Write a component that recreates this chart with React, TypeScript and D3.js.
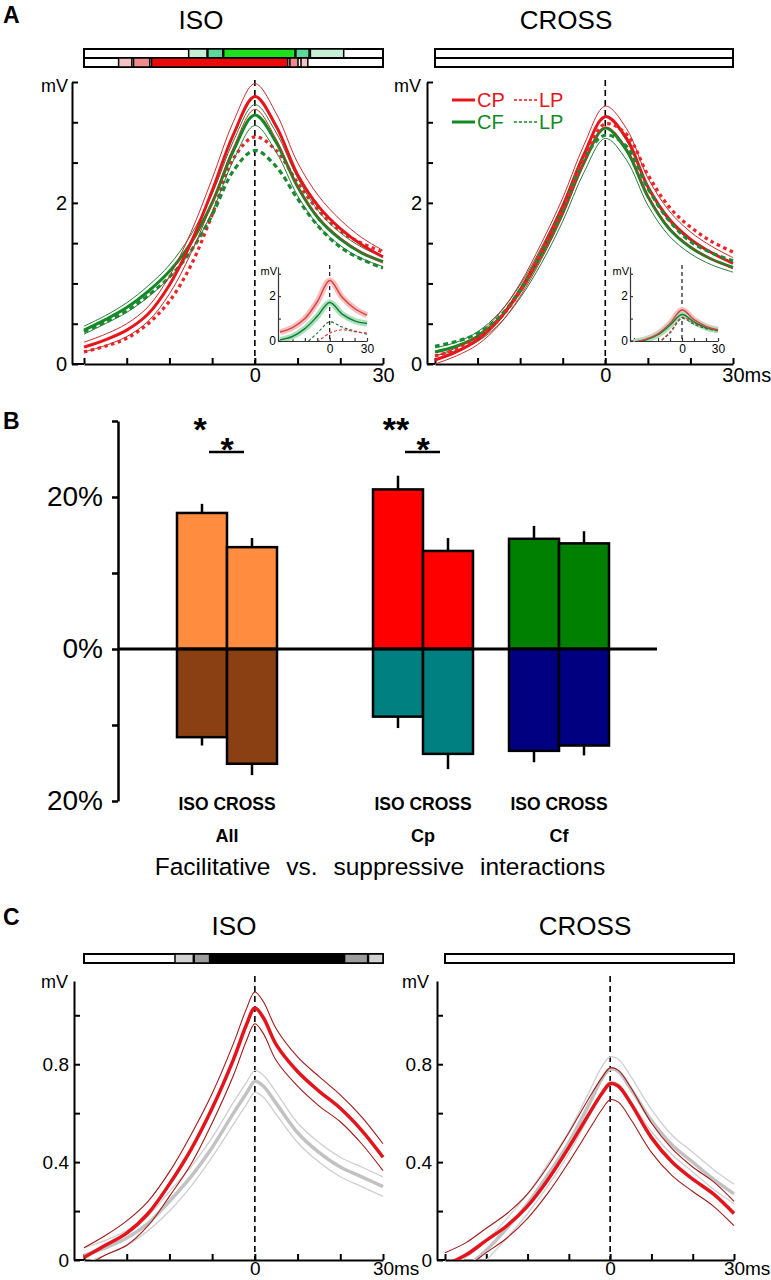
import React, { useRef, useEffect } from 'react';
import * as d3 from 'd3';

// ---- panel A : averaged traces (ms / mV) ----
const timesA = [-40, -35, -30, -25, -20, -15, -10, -5, 0, 5, 10, 15, 20, 25, 30];
const isoCP = [0.21, 0.30, 0.42, 0.62, 0.98, 1.50, 2.15, 2.85, 3.32, 2.95, 2.35, 1.95, 1.68, 1.48, 1.33];
const isoCPsem = [0.06, 0.07, 0.08, 0.09, 0.11, 0.13, 0.15, 0.16, 0.16, 0.16, 0.15, 0.13, 0.11, 0.09, 0.08];
const isoCF = [0.42, 0.55, 0.70, 0.90, 1.15, 1.50, 2.00, 2.65, 3.09, 2.75, 2.20, 1.80, 1.55, 1.38, 1.27];
const isoCFsem = [0.05, 0.05, 0.06, 0.07, 0.08, 0.10, 0.11, 0.12, 0.13, 0.12, 0.11, 0.09, 0.08, 0.07, 0.06];
const isoLPred = [0.15, 0.22, 0.32, 0.50, 0.78, 1.22, 1.85, 2.55, 2.82, 2.65, 2.25, 1.90, 1.65, 1.50, 1.39];
const isoLPgreen = [0.40, 0.52, 0.66, 0.85, 1.08, 1.40, 1.85, 2.40, 2.65, 2.45, 2.05, 1.70, 1.45, 1.30, 1.19];

const crossCP = [0.05, 0.15, 0.30, 0.55, 0.92, 1.40, 1.95, 2.60, 3.07, 2.80, 2.20, 1.80, 1.55, 1.38, 1.25];
const crossCPsem = [0.05, 0.05, 0.06, 0.07, 0.08, 0.10, 0.11, 0.12, 0.13, 0.12, 0.11, 0.10, 0.09, 0.08, 0.07];
const crossCF = [0.15, 0.22, 0.34, 0.56, 0.90, 1.35, 1.88, 2.50, 2.93, 2.65, 2.08, 1.68, 1.45, 1.30, 1.20];
const crossCFsem = [0.05, 0.05, 0.06, 0.07, 0.08, 0.10, 0.11, 0.12, 0.13, 0.12, 0.11, 0.09, 0.08, 0.07, 0.06];
const crossLPred = [0.10, 0.18, 0.32, 0.55, 0.90, 1.38, 1.92, 2.55, 2.98, 2.85, 2.35, 1.95, 1.70, 1.52, 1.39];
const crossLPgreen = [0.22, 0.28, 0.38, 0.58, 0.92, 1.38, 1.90, 2.55, 2.84, 2.70, 2.18, 1.78, 1.52, 1.38, 1.28];

// insets
const timesInset = [-40, -30, -20, -10, 0, 10, 20, 30];
const insIsoRed = [0.40, 0.60, 1.00, 1.75, 2.70, 1.95, 1.45, 1.15];
const insIsoGreen = [0.05, 0.20, 0.55, 1.10, 1.72, 1.20, 0.90, 0.78];
const insIsoRedDash = [null, null, null, -0.05, 0.35, 0.50, 0.42, 0.35];
const insIsoGreenDash = [null, null, -0.15, 0.35, 0.85, 0.62, 0.45, 0.30];
const insCrossRed = [-0.05, 0.08, 0.32, 0.78, 1.38, 0.95, 0.65, 0.50];
const insCrossGreen = [-0.05, 0.05, 0.28, 0.70, 1.18, 0.85, 0.60, 0.48];
const insCrossRedDash = [null, null, -0.1, 0.40, 1.05, 0.80, 0.58, 0.46];
const insCrossGreenDash = [null, null, -0.1, 0.35, 1.00, 0.75, 0.55, 0.45];

// significance strips [start ms, end ms, level]
const sigIsoGreen = [[-15.5, -11.2, 1], [-11.0, -7.5, 2], [-7.3, 9.4, 3], [9.6, 12.7, 2], [13.0, 20.8, 1]];
const sigIsoRed = [[-31.9, -28.8, 1], [-28.4, -24.6, 2], [-24.2, 7.7, 3], [8.2, 10.1, 2], [10.8, 12.4, 1]];
const sigC = [[-18.7, -14.4, 1], [-14.2, -10.6, 2], [-10.5, 21.0, 3], [21.0, 26.4, 2], [26.6, 30, 1]];

// ---- panel B : facilitation / suppression (%) ----
const groups = ['All', 'Cp', 'Cf'];
const conds = ['ISO', 'CROSS'];
const facil = [[17.9, 13.4], [21.0, 12.9], [14.5, 13.9]];
const facilErr = [[1.2, 1.2], [1.8, 1.7], [1.7, 1.6]];
const suppr = [[-11.6, -15.1], [-8.9, -13.8], [-13.4, -12.7]];
const supprErr = [[1.1, 1.5], [1.5, 2.0], [1.5, 1.3]];
const starsIso = ['*', '**', ''];
const starsPair = ['*', '*', ''];

// ---- panel C ----
const timesC = [-40, -35, -30, -25, -20, -15, -10, -5, -2, 0, 2, 5, 10, 15, 20, 25, 30];
const cIsoRed = [0.01, 0.06, 0.11, 0.19, 0.31, 0.45, 0.62, 0.82, 0.96, 1.03, 0.99, 0.88, 0.77, 0.69, 0.62, 0.53, 0.42];
const cIsoRedSem = [0.04, 0.04, 0.05, 0.05, 0.05, 0.06, 0.06, 0.065, 0.065, 0.065, 0.065, 0.065, 0.06, 0.06, 0.055, 0.055, 0.055];
const cIsoGray = [0.02, 0.05, 0.09, 0.15, 0.24, 0.34, 0.46, 0.60, 0.68, 0.73, 0.71, 0.64, 0.52, 0.44, 0.38, 0.34, 0.30];
const cIsoGraySem = [0.03, 0.03, 0.03, 0.03, 0.04, 0.04, 0.04, 0.045, 0.045, 0.045, 0.045, 0.045, 0.04, 0.04, 0.04, 0.04, 0.04];
const cCrossRed = [-0.02, 0.02, 0.08, 0.14, 0.22, 0.33, 0.46, 0.60, 0.68, 0.72, 0.71, 0.64, 0.50, 0.40, 0.33, 0.27, 0.19];
const cCrossRedSem = [0.05, 0.05, 0.05, 0.05, 0.05, 0.055, 0.06, 0.065, 0.065, 0.065, 0.065, 0.065, 0.06, 0.055, 0.05, 0.05, 0.05];
const cCrossGray = [-0.08, -0.03, 0.04, 0.13, 0.23, 0.35, 0.48, 0.64, 0.74, 0.78, 0.77, 0.70, 0.57, 0.47, 0.40, 0.33, 0.27];
const cCrossGraySem = [0.04, 0.04, 0.04, 0.04, 0.04, 0.045, 0.045, 0.05, 0.05, 0.05, 0.05, 0.05, 0.045, 0.04, 0.04, 0.04, 0.04];

const FONT = '"Liberation Sans", Arial, Helvetica, sans-serif';

export default function App() {
    const svgRef = useRef<SVGSVGElement | null>(null);

    useEffect(() => {
        const svg = d3.select(svgRef.current);
        svg.selectAll('*').remove();
        const defs = svg.append('defs');

        const text = (x: number, y: number, s: string, size: number, anchor = 'middle', weight = 'normal', fill = '#000') =>
            svg.append('text')
                .attr('x', x).attr('y', y)
                .attr('font-family', FONT).attr('font-size', size)
                .attr('text-anchor', anchor).attr('font-weight', weight)
                .attr('fill', fill).text(s);

        const mkLine = (x: any, y: any) =>
            d3.line<[number, number | null]>()
                .defined((d) => d[1] !== null)
                .x((d) => x(d[0]))
                .y((d) => y(d[1]))
                .curve(d3.curveCatmullRom.alpha(0.5));

        let clipN = 0;
        const clipFor = (x: any, y: any) => {
            const id = 'clip' + clipN++;
            const [y0, y1] = y.range();
            defs.append('clipPath').attr('id', id).append('rect')
                .attr('x', x.range()[0] - 12).attr('y', y1)
                .attr('width', x.range()[1] - x.range()[0] + 14)
                .attr('height', y0 - y1);
            return svg.append('g').attr('clip-path', `url(#${id})`);
        };

        const trace = (g: any, x: any, y: any, times: number[], vals: (number | null)[], color: string, width: number, dash?: string) => {
            g.append('path')
                .attr('d', mkLine(x, y)(times.map((t, i) => [t, vals[i]] as [number, number | null])))
                .attr('fill', 'none').attr('stroke', color).attr('stroke-width', width)
                .attr('stroke-dasharray', dash || null)
                .attr('stroke-linecap', 'butt');
        };

        const withSem = (g: any, x: any, y: any, times: number[], vals: number[], sem: number[], thick: string, thin: string, wThick: number, wThin: number) => {
            trace(g, x, y, times, vals.map((v, i) => v + sem[i]), thin, wThin);
            trace(g, x, y, times, vals.map((v, i) => v - sem[i]), thin, wThin);
            trace(g, x, y, times, vals, thick, wThick);
        };

        // axes for trace panels (ticks point inward)
        const traceAxes = (x: any, y: any, axisX: number, yTicks: number[], yFmt: (d: number) => string, topTick: boolean, lastLabel: string, fs: number, xPad = 4) => {
            const gy = svg.append('g').attr('transform', `translate(${axisX},0)`)
                .call(d3.axisLeft(y).tickValues(topTick ? [...yTicks, y.domain()[1]] : yTicks)
                    .tickSizeInner(-6).tickSizeOuter(0).tickPadding(5)
                    .tickFormat((d: any) => yFmt(d)));
            gy.attr('font-family', FONT).attr('font-size', fs);
            gy.selectAll('line,path').attr('stroke-width', 2);
            const gx = svg.append('g').attr('transform', `translate(0,${y(0)})`)
                .call(d3.axisBottom(x).tickValues(d3.range(-40, 31, 10))
                    .tickSizeInner(-6).tickSizeOuter(0).tickPadding(xPad)
                    .tickFormat((d: any) => (d === 0 ? '0' : d === 30 ? lastLabel : '')));
            gx.attr('font-family', FONT).attr('font-size', fs);
            gx.selectAll('line,path').attr('stroke-width', 2);
            gx.selectAll('.tick text').filter((d: any) => d === 30 && lastLabel.length > 2)
                .attr('text-anchor', 'start').attr('x', -fs * 0.56);
            gx.append('line').attr('x1', axisX).attr('x2', x.range()[0]).attr('y1', 0).attr('y2', 0)
                .attr('stroke', '#000').attr('stroke-width', 2);
        };

        const zeroDash = (x: any, y0: number, y1: number, w = 1.6, dash = '6,4') =>
            svg.append('line').attr('x1', x(0)).attr('x2', x(0)).attr('y1', y0).attr('y2', y1)
                .attr('stroke', '#000').attr('stroke-width', w).attr('stroke-dasharray', dash);

        const strip = (x: any, top: number, h: number, segs: number[][], shades: string[]) => {
            svg.append('rect').attr('x', x(-40)).attr('y', top).attr('width', x(30) - x(-40)).attr('height', h)
                .attr('fill', '#fff').attr('stroke', '#000').attr('stroke-width', 2);
            segs.forEach(([s, e, lv]) => {
                svg.append('rect').attr('x', x(s)).attr('y', top).attr('width', x(e) - x(s)).attr('height', h)
                    .attr('fill', shades[lv]).attr('stroke', '#000').attr('stroke-width', 1.5);
            });
        };

        const greenShades = ['#fff', '#c4eed6', '#5cd99a', '#1ee01e'];
        const redShades = ['#fff', '#f4c4c4', '#ee8c8c', '#ea0a0a'];
        const grayShades = ['#fff', '#d2d2d2', '#9c9c9c', '#000'];

        // ================= PANEL A =================
        text(3, 23, 'A', 23, 'start', 'bold');
        text(201, 29, 'ISO', 26);
        text(566, 29, 'CROSS', 26);

        const yA = d3.scaleLinear().domain([0, 3.5]).range([364, 82]);
        const xAiso = d3.scaleLinear().domain([-40, 30]).range([84, 383]);
        const xAcross = d3.scaleLinear().domain([-40, 30]).range([435, 733]);

        strip(xAiso, 49, 9, sigIsoGreen, greenShades);
        strip(xAiso, 58, 9, sigIsoRed, redShades);
        strip(xAcross, 49, 9, [], greenShades);
        strip(xAcross, 58, 9, [], redShades);

        const aFmt = (d: number) => (d === 0 ? '0' : d === 2 ? '2' : '');
        traceAxes(xAiso, yA, 72, d3.range(0, 3.01, 0.5), aFmt, true, '30', 20);
        traceAxes(xAcross, yA, 427, d3.range(0, 3.01, 0.5), aFmt, true, '30ms', 20);
        text(68, 92, 'mV', 18, 'end');
        text(421, 92, 'mV', 18, 'end');
        zeroDash(xAiso, 80, 364);
        zeroDash(xAcross, 80, 364);

        const RED = '#e8141c', RED_THIN = '#cc2a2a', GREEN = '#108a24', GREEN_THIN = '#2a7a3a';
        const RED_DASH = '#ee2424', GREEN_DASH = '#1c8a32';

        const gIso = clipFor(xAiso, yA);
        trace(gIso, xAiso, yA, timesA, isoLPred, RED_DASH, 3.2, '3.5,3.5');
        trace(gIso, xAiso, yA, timesA, isoLPgreen, GREEN_DASH, 3.2, '5,3.5');
        withSem(gIso, xAiso, yA, timesA, isoCF, isoCFsem, GREEN, GREEN_THIN, 3, 1);
        withSem(gIso, xAiso, yA, timesA, isoCP, isoCPsem, RED, RED_THIN, 3, 1);

        const gCross = clipFor(xAcross, yA);
        withSem(gCross, xAcross, yA, timesA, crossCF, crossCFsem, GREEN, GREEN_THIN, 3, 1);
        withSem(gCross, xAcross, yA, timesA, crossCP, crossCPsem, RED, RED_THIN, 3, 1);
        trace(gCross, xAcross, yA, timesA, crossLPgreen, GREEN_DASH, 3.2, '5,3.5');
        trace(gCross, xAcross, yA, timesA, crossLPred, RED_DASH, 3.2, '3.5,3.5');

        // legend
        const legend = [
            { y: 100, c: RED, a: 'CP' },
            { y: 122, c: GREEN, a: 'CF' },
        ];
        legend.forEach((l) => {
            svg.append('line').attr('x1', 452).attr('x2', 475).attr('y1', l.y).attr('y2', l.y)
                .attr('stroke', l.c).attr('stroke-width', 3);
            text(477, l.y + 7, l.a, 20, 'start', 'normal', l.c);
            svg.append('line').attr('x1', 514).attr('x2', 538).attr('y1', l.y).attr('y2', l.y)
                .attr('stroke', l.c).attr('stroke-width', 1.5).attr('stroke-dasharray', '3,2');
            text(539, l.y + 7, 'LP', 20, 'start', 'normal', l.c);
        });

        // insets
        const inset = (x: any, y: any, axisX: number, red: (number | null)[], green: (number | null)[], redDash: (number | null)[], greenDash: (number | null)[]) => {
            const gy = svg.append('g').attr('transform', `translate(${axisX},0)`)
                .call(d3.axisLeft(y).tickValues([0, 1, 2, 3]).tickSizeInner(-3).tickSizeOuter(0).tickPadding(2)
                    .tickFormat((d: any) => (d === 0 ? '0' : d === 2 ? '2' : '')));
            gy.attr('font-family', FONT).attr('font-size', 12);
            gy.selectAll('line,path').attr('stroke-width', 1.2).attr('stroke', '#333');
            const gx = svg.append('g').attr('transform', `translate(0,${y(0)})`)
                .call(d3.axisBottom(x).tickValues(d3.range(-40, 31, 10)).tickSizeInner(-3).tickSizeOuter(0).tickPadding(3)
                    .tickFormat((d: any) => (d === 0 ? '0' : d === 30 ? '30' : '')));
            gx.attr('font-family', FONT).attr('font-size', 12);
            gx.selectAll('line,path').attr('stroke-width', 1.2).attr('stroke', '#333');
            svg.append('line').attr('x1', axisX).attr('x2', x.range()[0]).attr('y1', y(0)).attr('y2', y(0))
                .attr('stroke', '#333').attr('stroke-width', 1.2);
            text(axisX - 1, y.range()[1] + 8, 'mV', 11, 'end');
            zeroDash(x, y.range()[1] - 2, y(0), 1.1, '4,3');
            const g = clipFor(x, y);
            trace(g, x, y, timesInset, red, '#f6c0c0', 6);
            trace(g, x, y, timesInset, green, '#a8e2b8', 6);
            trace(g, x, y, timesInset, greenDash, '#1a6a2a', 1.1, '3,2');
            trace(g, x, y, timesInset, redDash, '#d83030', 1.1, '3,2');
            trace(g, x, y, timesInset, green, '#1a7a3a', 1.4);
            trace(g, x, y, timesInset, red, '#dc4040', 1.4);
        };
        const yIns = d3.scaleLinear().domain([0, 3.3]).range([341, 267]);
        inset(d3.scaleLinear().domain([-40, 30]).range([280, 367]), yIns, 278, insIsoRed, insIsoGreen, insIsoRedDash, insIsoGreenDash);
        inset(d3.scaleLinear().domain([-40, 30]).range([634, 718]), yIns, 630, insCrossRed, insCrossGreen, insCrossRedDash, insCrossGreenDash);

        // ================= PANEL B =================
        text(3, 429, 'B', 23, 'start', 'bold');
        const yB = d3.scaleLinear().domain([-20, 30]).range([801, 421]);
        const gx = d3.scaleOrdinal<string, number>().domain(groups).range([227, 423, 559]);
        const sub = d3.scaleBand().domain(conds).range([-50, 50]);

        const gyB = svg.append('g').attr('transform', 'translate(118,0)')
            .call(d3.axisLeft(yB).tickValues(d3.range(-20, 31, 10)).tickSizeInner(6).tickSizeOuter(0).tickPadding(9)
                .tickFormat((d: any) => (d === 0 ? '0%' : Math.abs(d) === 20 ? '20%' : '')));
        gyB.attr('font-family', FONT).attr('font-size', 28);
        gyB.selectAll('line,path').attr('stroke-width', 2.5);

        groups.forEach((gname, gi) => {
            conds.forEach((c, ci) => {
                const x0 = gx(gname) + (sub(c) as number);
                const w = sub.bandwidth();
                const fc = ['#ff8c3f', '#ff0000', '#008000'][gi];
                const sc = ['#8b4013', '#008080', '#000080'][gi];
                const f = facil[gi][ci], s = suppr[gi][ci];
                svg.append('line').attr('x1', x0 + w / 2).attr('x2', x0 + w / 2)
                    .attr('y1', yB(f)).attr('y2', yB(f + facilErr[gi][ci]))
                    .attr('stroke', '#000').attr('stroke-width', 2.5);
                svg.append('line').attr('x1', x0 + w / 2).attr('x2', x0 + w / 2)
                    .attr('y1', yB(s)).attr('y2', yB(s - supprErr[gi][ci]))
                    .attr('stroke', '#000').attr('stroke-width', 2.5);
                svg.append('rect').attr('x', x0).attr('y', yB(f)).attr('width', w).attr('height', yB(0) - yB(f))
                    .attr('fill', fc).attr('stroke', '#000').attr('stroke-width', 2.5);
                svg.append('rect').attr('x', x0).attr('y', yB(0)).attr('width', w).attr('height', yB(s) - yB(0))
                    .attr('fill', sc).attr('stroke', '#000').attr('stroke-width', 2.5);
            });
            const cx = gx(gname);
            text(cx, 810, 'ISO CROSS', 17.5, 'middle', 'bold');
            text(cx, 842, gname, 18, 'middle', 'bold');
            if (starsIso[gi]) text(cx + (sub('ISO') as number) + sub.bandwidth() / 2 - 2, 441, starsIso[gi], 34, 'middle', 'bold');
            if (starsPair[gi]) {
                text(cx, 461, starsPair[gi], 34, 'middle', 'bold');
                svg.append('line').attr('x1', cx - 18).attr('x2', cx + 17).attr('y1', 452).attr('y2', 452)
                    .attr('stroke', '#000').attr('stroke-width', 2.5);
            }
        });
        svg.append('line').attr('x1', 118).attr('x2', 657).attr('y1', yB(0)).attr('y2', yB(0))
            .attr('stroke', '#000').attr('stroke-width', 3);
        text(380, 875, 'Facilitative  vs.  suppressive  interactions', 24.5).attr('word-spacing', 9);

        // ================= PANEL C =================
        text(3, 925, 'C', 23, 'start', 'bold');
        text(234, 935, 'ISO', 26);
        text(585, 935, 'CROSS', 26);
        const yC = d3.scaleLinear().domain([0, 1.14]).range([1260, 981]);
        const xCiso = d3.scaleLinear().domain([-40, 30]).range([84, 383]);
        const xCcross = d3.scaleLinear().domain([-40, 30]).range([445, 734]);
        strip(xCiso, 954, 9, sigC, grayShades);
        strip(xCcross, 954, 9, [], grayShades);
        const cFmt = (d: number) => (d === 0 ? '0' : Math.abs(d - 0.4) < 1e-6 ? '0.4' : Math.abs(d - 0.8) < 1e-6 ? '0.8' : '');
        traceAxes(xCiso, yC, 74, [0, 0.2, 0.4, 0.6, 0.8, 1.0], cFmt, false, '30ms', 19, 1);
        traceAxes(xCcross, yC, 437, [0, 0.2, 0.4, 0.6, 0.8, 1.0], cFmt, false, '30ms', 19, 1);
        text(68, 988, 'mV', 18, 'end');
        text(429, 988, 'mV', 18, 'end');
        zeroDash(xCiso, 976, 1260);
        zeroDash(xCcross, 976, 1260);

        const CRED = '#e3141b', CRED_THIN = '#a31818', GRAY = '#c2c2c2', GRAY_THIN = '#cfcfcf';
        const gCi = clipFor(xCiso, yC);
        withSem(gCi, xCiso, yC, timesC, cIsoGray, cIsoGraySem, GRAY, GRAY_THIN, 3.5, 1.3);
        withSem(gCi, xCiso, yC, timesC, cIsoRed, cIsoRedSem, CRED, CRED_THIN, 3.5, 1.1);
        const gCc = clipFor(xCcross, yC);
        withSem(gCc, xCcross, yC, timesC, cCrossGray, cCrossGraySem, GRAY, GRAY_THIN, 3.5, 1.3);
        withSem(gCc, xCcross, yC, timesC, cCrossRed, cCrossRedSem, CRED, CRED_THIN, 3.5, 1.1);
    }, []);

    return (
        <svg ref={svgRef} width={771} height={1280}
             style={{ position: 'absolute', left: 0, top: 0, background: '#fff' }} />
    );
}
